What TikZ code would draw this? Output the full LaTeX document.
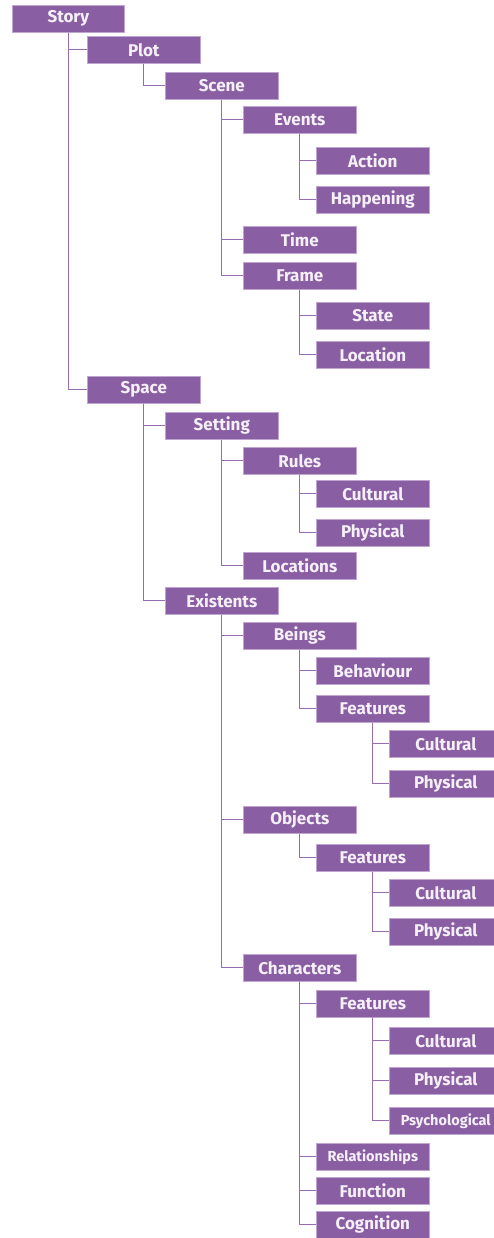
\documentclass[tikz,border=0pt]{standalone}
\usepackage{fontspec}
\setmainfont{Fira Sans}
\definecolor{boxfill}{RGB}{138,94,163}
\definecolor{boxedge}{RGB}{190,165,210}
\definecolor{linec}{RGB}{150,110,175}
\definecolor{txt}{RGB}{245,240,248}
\begin{document}
\begin{tikzpicture}[x=1pt,y=-1pt,
  tb/.style={anchor=north west,fill=boxfill,draw=boxedge,line width=0.6pt,
    minimum width=113pt,minimum height=27pt,inner sep=0pt,text=txt,
    font=\fontsize{17}{17}\selectfont\bfseries},
  sm/.style={font=\fontsize{14.5}{14.5}\selectfont\bfseries},
  conn/.style={draw=linec,line width=1.3pt}]
\useasboundingbox (0,0) rectangle (494,1238);
% level lefts: 12, 87, 165, 243, 316, 389
\node[tb,minimum width=112pt] (story) at (12,5) {Story};
\node[tb] (plot) at (87,36) {Plot};
\node[tb] (scene) at (165,72) {Scene};
\node[tb] (events) at (243,106) {Events};
\node[tb] (action) at (316,147) {Action};
\node[tb] (happening) at (316,186) {Happening};
\node[tb] (time) at (243,226) {Time};
\node[tb] (frame) at (243,262) {Frame};
\node[tb] (state) at (316,302) {State};
\node[tb] (location) at (316,341) {Location};
\node[tb] (space) at (87,376) {Space};
\node[tb] (setting) at (165,412) {Setting};
\node[tb] (rules) at (243,447) {Rules};
\node[tb] (rcult) at (316,480) {Cultural};
\node[tb] (rphys) at (316,519) {Physical};
\node[tb] (locations) at (243,552) {Locations};
\node[tb] (existents) at (165,587) {Existents};
\node[tb] (beings) at (243,622) {Beings};
\node[tb] (behaviour) at (316,657) {Behaviour};
\node[tb] (bfeat) at (316,695) {Features};
\node[tb] (bcult) at (389,730) {Cultural};
\node[tb] (bphys) at (389,770) {Physical};
\node[tb] (objects) at (243,806) {Objects};
\node[tb] (ofeat) at (316,844) {Features};
\node[tb] (ocult) at (389,879) {Cultural};
\node[tb] (ophys) at (389,918) {Physical};
\node[tb] (characters) at (243,954) {Characters};
\node[tb] (cfeat) at (316,990) {Features};
\node[tb] (ccult) at (389,1027) {Cultural};
\node[tb] (cphys) at (389,1067) {Physical};
\node[tb,sm] (cpsy) at (389,1107) {Psychological};
\node[tb,sm] (relations) at (316,1143) {Relationships};
\node[tb] (function) at (316,1177) {Function};
\node[tb] (cognition) at (316,1211) {Cognition};
\foreach \p/\c in {story/plot,story/space,plot/scene,scene/events,scene/time,scene/frame,
  events/action,events/happening,frame/state,frame/location,space/setting,space/existents,
  setting/rules,setting/locations,rules/rcult,rules/rphys,existents/beings,existents/objects,
  existents/characters,beings/behaviour,beings/bfeat,bfeat/bcult,bfeat/bphys,objects/ofeat,
  ofeat/ocult,ofeat/ophys,characters/cfeat,characters/relations,characters/function,
  characters/cognition,cfeat/ccult,cfeat/cphys,cfeat/cpsy}
  \draw[conn] (\p.south) |- (\c.west);
\end{tikzpicture}
\end{document}
